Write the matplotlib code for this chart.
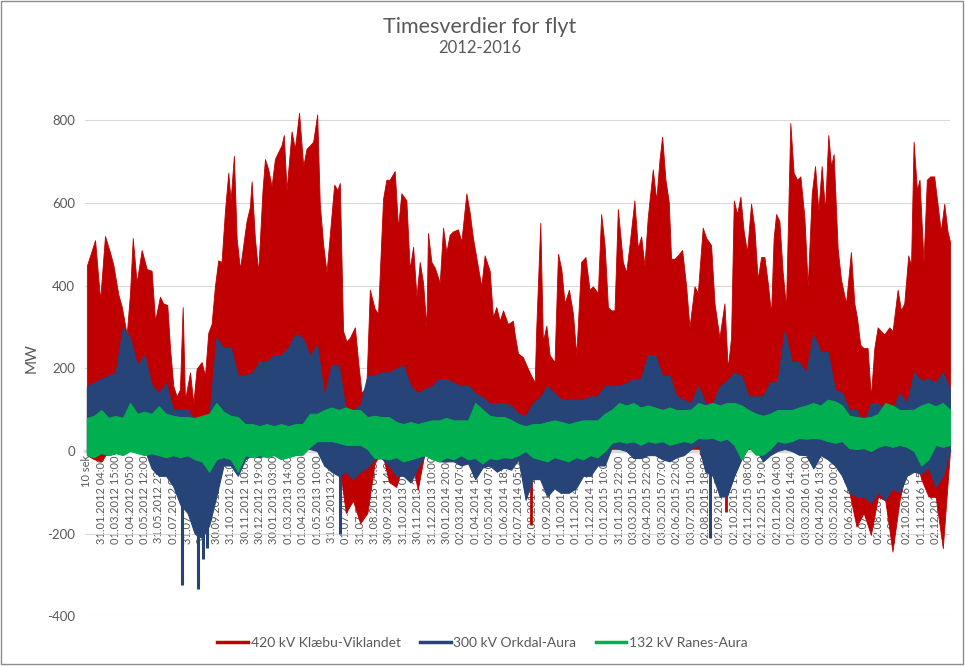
import numpy as np
import matplotlib
matplotlib.use("Agg")
from matplotlib import pyplot as plt
from matplotlib.lines import Line2D
from matplotlib.patches import Rectangle

plt.rcParams['font.family'] = ['Lato', 'DejaVu Sans']
plt.rcParams['axes.unicode_minus'] = False

# kategori-etiketter (hver 731. time omtrent)
labels = [
    "10 sek", "31.01.2012 04:00", "01.03.2012 15:00", "01.04.2012 05:00",
    "01.05.2012 12:00", "31.05.2012 23:00", "01.07.2012 09:00", "31.07.2012 20:00",
    "31.08.2012 07:00", "30.09.2012 14:00", "31.10.2012 01:00", "30.11.2012 10:00",
    "30.12.2012 19:00", "30.01.2013 03:00", "01.03.2013 14:00", "01.04.2013 00:00",
    "01.05.2013 10:00", "31.05.2013 22:00", "01.07.2013 08:00", "31.07.2013 18:00",
    "31.08.2013 04:00", "30.09.2013 14:00", "31.10.2013 07:00", "30.11.2013 20:00",
    "31.12.2013 10:00", "30.01.2014 20:00", "02.03.2014 07:00", "01.04.2014 18:00",
    "02.05.2014 07:00", "01.06.2014 18:00", "02.07.2014 05:00", "02.08.2014 16:00",
    "01.09.2014 03:00", "01.10.2014 14:00", "01.11.2014 01:00", "01.12.2014 12:00",
    "01.01.2015 10:00", "31.01.2015 22:00", "03.03.2015 10:00", "02.04.2015 22:00",
    "03.05.2015 07:00", "02.06.2015 22:00", "03.07.2015 10:00", "02.08.2015 18:00",
    "02.09.2015 06:00", "02.10.2015 19:00", "02.11.2015 08:00", "02.12.2015 19:00",
    "02.01.2016 04:00", "01.02.2016 14:00", "03.03.2016 01:00", "02.04.2016 13:00",
    "03.05.2016 00:00", "02.06.2016 11:00", "02.07.2016 22:00", "02.08.2016 09:00",
    "01.09.2016 20:00", "02.10.2016 04:00", "01.11.2016 15:00", "02.12.2016 02:00",
]

# 420 kV: topper (tid i etikett-intervaller, MW)
red_t = [0.00, 0.57, 0.92, 1.26, 1.61, 1.84, 2.19, 2.42, 2.77, 3.00, 3.19, 3.46, 3.81, 4.16,
         4.50, 4.74, 5.08, 5.31, 5.59, 5.78, 6.01, 6.24, 6.47, 6.66, 6.82, 7.17, 7.40, 7.63,
         7.98, 8.21, 8.44, 8.67, 8.90, 9.13, 9.36, 9.60, 9.83, 9.99, 10.22, 10.41, 10.64,
         10.87, 11.10, 11.33, 11.45, 11.68, 11.91, 12.21, 12.38, 12.61, 12.84, 13.07, 13.30,
         13.53, 13.69, 13.88, 14.11, 14.23, 14.46, 14.75, 15.04, 15.27, 15.50, 15.73, 16.01,
         16.19, 16.43, 16.66, 17.19, 17.42, 17.58, 17.81, 18.05, 18.28, 18.63, 18.86, 19.09,
         19.43, 19.67, 20.01, 20.24, 20.59, 20.82, 21.05, 21.40, 21.63, 21.86, 22.21, 22.44,
         22.68, 22.91, 23.14, 23.37, 23.60, 23.71, 23.95, 24.18, 24.53, 24.76, 24.99, 25.22,
         25.45, 25.80, 26.03, 26.38, 26.61, 26.84, 27.19, 27.42, 27.65, 28.00, 28.23, 28.46,
         28.70, 28.93, 29.27, 29.62, 29.74, 29.97, 30.31, 30.66, 30.89, 31.13, 31.24, 31.52,
         31.70, 31.94, 32.17, 32.51, 32.75, 32.98, 33.21, 33.51, 33.79, 34.02, 34.36, 34.66,
         34.94, 35.17, 35.52, 35.75, 35.99, 36.22, 36.45, 36.68, 36.91, 37.26, 37.49, 37.72,
         38.06, 38.30, 38.53, 38.76, 38.99, 39.34, 39.58, 39.81, 39.99, 40.22, 40.45, 40.61,
         40.85, 41.08, 41.38, 41.66, 41.89, 42.24, 42.47, 42.81, 43.05, 43.39, 43.63, 43.97,
         44.32, 44.55, 44.78, 44.97, 45.20, 45.43, 45.66, 45.89, 46.17, 46.40, 46.63, 46.87,
         47.10, 47.33, 47.56, 47.74, 47.91, 48.14, 48.37, 48.60, 48.90, 49.13, 49.37, 49.60,
         49.88, 50.11, 50.39, 50.62, 50.85, 51.08, 51.31, 51.54, 51.73, 51.91, 52.19, 52.42,
         52.77, 53.11, 53.35, 53.53, 53.76, 53.99, 54.27, 54.50, 54.74, 54.97, 55.20, 55.43,
         55.78, 56.01, 56.36, 56.59, 56.82, 57.10, 57.29, 57.47, 57.70, 57.88, 58.16, 58.39,
         58.62, 58.90, 59.13, 59.36, 59.60, 59.83, 60.00]
red_peak = [448, 510, 365, 520, 480, 450, 378, 350, 282, 382, 515, 407, 486, 440,
            436, 315, 373, 357, 353, 249, 157, 132, 149, 348, 124, 190, 116, 199,
            215, 182, 286, 307, 398, 461, 457, 581, 673, 606, 714, 515, 440,
            498, 556, 590, 652, 515, 432, 631, 706, 681, 640, 706, 723,
            739, 764, 631, 723, 773, 731, 818, 689, 731, 739, 748, 814,
            598, 498, 432, 644, 631, 648, 290, 265, 274, 299, 215, 140,
            157, 390, 344, 332, 610, 656, 656, 677, 540, 623, 606, 440,
            494, 373, 457, 407, 299, 527, 457, 444, 407, 540, 481, 523,
            531, 536, 506, 623, 577, 515, 444, 398, 473, 436, 323, 348,
            315, 340, 307, 315, 282, 236, 227, 199, 182, 166, 299, 552,
            265, 303, 232, 215, 477, 440, 357, 390, 332, 232, 457, 469,
            390, 398, 382, 573, 498, 348, 340, 340, 585, 457, 432, 498,
            606, 490, 519, 448, 565, 681, 606, 706, 760, 656, 602, 465,
            465, 473, 486, 398, 299, 398, 382, 540, 515, 498, 357, 274,
            357, 199, 274, 606, 573, 615, 531, 481, 598, 540, 415, 469,
            469, 407, 332, 515, 573, 556, 432, 348, 793, 673, 656, 664,
            565, 398, 623, 689, 581, 689, 581, 764, 689, 718, 490, 415,
            357, 481, 357, 323, 257, 249, 249, 132, 249, 299, 290, 282,
            299, 290, 390, 340, 357, 473, 448, 748, 631, 656, 457, 656,
            664, 664, 598, 531, 598, 531, 506]

# min (MW) per halve etikett-intervall (under null for 420 kV)
red_lo = [-10, -20, -25, 20, 20, 10, 30, 30, 30, 20, 10, 10, -20, -40, -120, -190,
          -210, -60, -20, 40, 60, 80, 80, 100, 100, 120, 120, 120, 130, 130, 130, 120,
          80, 30, -40, -20, -150, -120, -175, -150, -30, 20, -75, -87, -30, -10, -94, 20,
          40, 40, 40, 40, 40, 30, 7, 10, -38, 0, 0, -10, -20, -60, -60, -40,
          -77, -35, 0, 20, 20, 30, 30, 40, 60, 80, 100, 120, 130, 140, 130, 120,
          100, 80, 60, 40, 40, 20, -30, -20, -60, -60, 10, 40, 40, 40, 30, 40,
          60, 80, 80, 80, 80, 80, 80, 60, 40, -60, -100, -183, -150, -203, -110, -120,
          -243, -118, -40, 20, -68, -110, -110, -235, 40]
blue_hi = [157, 165, 175, 182, 190, 299, 274, 207, 232, 160, 140, 165, 99, 99, 99, 74,
           74, 80, 274, 249, 249, 182, 182, 190, 215, 215, 232, 232, 250, 282, 274, 230,
           257, 132, 207, 207, 99, 99, 110, 182, 182, 190, 190, 199, 207, 157, 140, 150,
           157, 174, 174, 165, 157, 157, 140, 130, 116, 116, 116, 110, 90, 85, 116, 130,
           157, 140, 124, 124, 124, 124, 132, 132, 157, 157, 157, 165, 174, 174, 232, 232,
           182, 182, 132, 124, 116, 157, 116, 116, 157, 170, 190, 182, 132, 132, 132, 166,
           166, 290, 215, 215, 190, 282, 240, 240, 149, 140, 99, 99, 65, 116, 116, 99,
           99, 140, 116, 190, 170, 175, 165, 190, 150]
blue_lo = [-5, -10, -5, -10, -5, 15, 10, 10, 5, -42, -60, -60, -85, -130, -150, -200,
           -210, -180, -110, -35, -35, -60, -20, -10, -15, -10, -5, -10, -10, 5, 7, 5,
           0, -35, -50, -60, -50, -68, -50, -40, -18, -18, -35, -60, -60, -76, -40, -9,
           -9, -25, -25, -25, -35, -30, -68, -40, -35, -50, -40, -45, -20, -118, -68, -68,
           -110, -90, -101, -101, -90, -60, -60, -35, -35, 10, 5, 0, -17, -17, -10, -10,
           -20, -25, -15, -10, 5, 15, -50, -60, -110, -110, -60, -20, 10, 5, -25, -10,
           0, 5, 0, -9, -10, -42, -10, -20, -35, -60, -100, -110, -110, -125, -100, -118,
           -90, -100, -60, -50, -55, -40, -87, -60, 0]
green_hi = [80, 85, 99, 80, 85, 80, 116, 90, 95, 90, 108, 90, 85, 82, 82, 80,
            85, 90, 116, 95, 85, 82, 65, 65, 60, 65, 60, 65, 60, 65, 65, 90,
            90, 99, 105, 99, 105, 99, 99, 82, 85, 82, 82, 70, 65, 70, 65, 70,
            74, 74, 80, 74, 74, 74, 116, 100, 85, 82, 82, 75, 65, 60, 65, 65,
            70, 74, 70, 65, 70, 74, 74, 74, 90, 100, 116, 110, 116, 105, 110, 105,
            99, 105, 99, 99, 100, 116, 110, 116, 110, 116, 116, 110, 99, 90, 85, 90,
            99, 99, 99, 105, 110, 116, 110, 124, 120, 110, 85, 82, 80, 82, 90, 116,
            110, 99, 99, 100, 110, 116, 108, 116, 100]
green_lo = [-10, -15, -5, -10, -5, -10, 0, -5, -10, -5, -10, -15, -10, -15, -10, -20,
            -25, -50, -20, -15, -20, -50, -10, -15, -10, -15, -10, -20, -15, -10, -9, 10,
            24, 24, 24, 20, 15, 15, 15, 5, -17, -17, -20, -15, -25, -20, -15, -10,
            -20, -25, -15, -20, -10, -20, -17, -30, -17, -20, -15, -17, -10, 0, -15, -20,
            -25, -15, -20, -25, -15, -20, -10, -15, 0, 20, 24, 20, 24, 15, 24, 20,
            24, 15, 20, 24, 20, 32, 30, 32, 25, 30, 15, -20, 10, -9, -9, 5,
            24, 20, 24, 32, 30, 32, 30, 24, 20, 24, 7, 5, 7, 0, 10, 15,
            10, 15, 10, 0, -35, -20, 15, 10, 15]

# enkeltstående utslag nedover (tid, MW)
red_spike_t = [30.90, 44.45]
red_spike_v = [-179, -147]
blue_spike_t = [6.62, 7.72, 8.05, 8.35, 17.60, 43.30]
blue_spike_v = [-325, -333, -260, -234, -200, -210]

names = ["420 kV Klæbu-Viklandet", "300 kV Orkdal-Aura", "132 kV Ranes-Aura"]
colors = ["#C00000", "#264478", "#00B050"]

fig = plt.figure(figsize=(9.65, 6.67), dpi=100)
ax = fig.add_axes([85 / 965, (667 - 616.4) / 667, 865 / 965, (616.4 - 99.5) / 667])

# kategoriaksen krysser ved 0 (må settes før etikettene)
for s in ['top', 'right', 'left']:
    ax.spines[s].set_visible(False)
ax.spines['bottom'].set_position(('data', 0))
ax.spines['bottom'].set_color('#d9d9d9')
ax.spines['bottom'].set_linewidth(2.5)

pos = np.arange(len(red_lo)) * 0.5  # posisjon i etikett-intervaller

# 420 kV: topper over null, bunner under null
ax.fill_between(red_t, 0, red_peak, color=colors[0], lw=0.6, zorder=2)
ax.fill_between(pos, np.minimum(red_lo, 0), 0, color=colors[0], lw=0.6, zorder=2)
ax.vlines(red_spike_t, 0, red_spike_v, color=colors[0], lw=2, zorder=2)
ax.fill_between(pos, blue_lo, blue_hi, color=colors[1], lw=0.8, zorder=3)
ax.vlines(blue_spike_t, 0, blue_spike_v, color=colors[1], lw=2.2, zorder=3)
ax.fill_between(pos, green_lo, green_hi, color=colors[2], lw=0.8, zorder=4)

handles = [Line2D([], [], color=c, lw=2.5, label=n) for n, c in zip(names, colors)]

ax.set_xlim(-0.13, 60.0)
ax.set_ylim(-400, 850)
ax.set_yticks([-400, -200, 0, 200, 400, 600, 800])
ax.set_xticks(np.arange(len(labels)))
ax.set_xticklabels(labels, rotation=90, fontsize=8, color='#595959', va='top')
ax.tick_params(axis='x', length=0, pad=3)
ax.tick_params(axis='y', length=0, pad=7, labelsize=9.5, labelcolor='#595959')
ax.grid(axis='y', color='#d9d9d9', lw=0.8)
ax.set_axisbelow(True)
ax.set_ylabel('MW', fontsize=11, color='#595959')
ax.yaxis.set_label_coords(-0.054, 0.5)

fig.text(0.497, 1 - 27 / 667, 'Timesverdier for flyt', ha='center', va='center',
         fontsize=15.5, color='#595959')
fig.text(0.497, 1 - 48 / 667, '2012-2016', ha='center', va='center',
         fontsize=12, color='#595959')

fig.legend(handles=handles, loc='center', bbox_to_anchor=(0.5, 1 - 643 / 667), ncol=3,
           frameon=False, fontsize=10, labelcolor='#595959', handlelength=2.2,
           handletextpad=0.2, columnspacing=1.4)

fig.patches.append(Rectangle((0.001, 0.004), 0.997, 0.994, transform=fig.transFigure,
                             fill=False, edgecolor='#8c8c8c', lw=1))

fig.savefig('out.png', dpi=100)
